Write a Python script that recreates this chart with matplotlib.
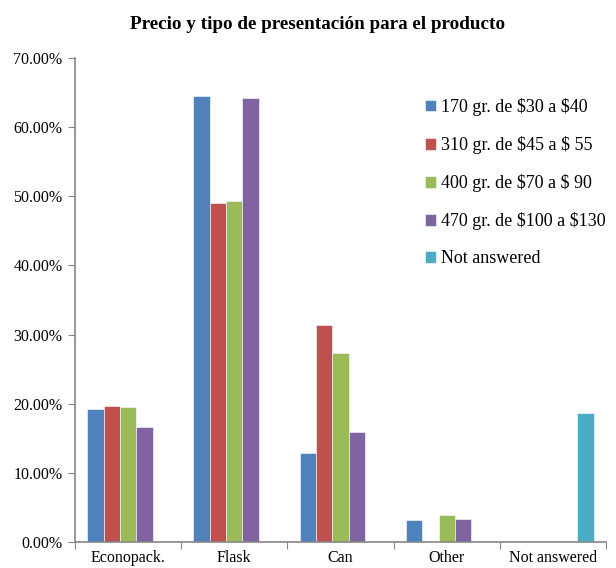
import matplotlib
matplotlib.use("Agg")
import matplotlib.pyplot as plt
import numpy as np
from matplotlib.ticker import FuncFormatter, FixedLocator

plt.rcParams["font.family"] = ["Liberation Serif", "DejaVu Serif"]
plt.rcParams["text.parse_math"] = False

categories = ["Econopack.", "Flask", "Can", "Other", "Not answered"]
series_names = [
    "170 gr. de $30 a $40",
    "310 gr. de $45 a $ 55",
    "400 gr. de $70 a $ 90",
    "470 gr. de $100 a $130",
    "Not answered",
]
s170 = [19.3, 64.5, 12.9, 3.2, 0.0]
s310 = [19.6, 49.0, 31.4, 0.0, 0.0]
s400 = [19.5, 49.3, 27.3, 3.9, 0.0]
s470 = [16.6, 64.2, 15.9, 3.3, 0.0]
s_na = [0.0, 0.0, 0.0, 0.0, 18.7]
values = [s170, s310, s400, s470, s_na]
colors = ["#4F81BD", "#C0504D", "#9BBB59", "#8064A2", "#4BACC6"]

fig = plt.figure(figsize=(6.16, 5.68), dpi=100)
ax = fig.add_axes([0.1218, 0.0458, 0.8620, 0.8522])

x = np.arange(len(categories))
n = len(values)
w = 1.0 / (n + 1.5)
handles = []
for i, (vals, col, name) in enumerate(zip(values, colors, series_names)):
    b = ax.bar(x + (i - (n - 1) / 2) * w, vals, width=w, color=col,
               edgecolor="white", linewidth=0.4, label=name)
    handles.append(b)

ax.set_xlim(-0.5, len(categories) - 0.5)
ax.set_ylim(0, 70)
ax.set_yticks(np.arange(0, 71, 10))
ax.yaxis.set_major_formatter(FuncFormatter(lambda v, p: f"{v:.2f}%"))

# category boundaries as ticks, names centred between them
ax.xaxis.set_major_locator(FixedLocator(np.arange(-0.5, len(categories), 1.0)))
ax.xaxis.set_minor_locator(FixedLocator(x))
ax.set_xticklabels([""] * (len(categories) + 1))
ax.set_xticklabels(categories, minor=True)
ax.tick_params(axis="x", which="minor", length=0, pad=6, labelsize=11.5)
ax.tick_params(axis="x", which="major", length=5, color="#868686")
ax.tick_params(axis="y", length=5, color="#868686", labelsize=11.5, pad=4)

for s in ("top", "right"):
    ax.spines[s].set_visible(False)
for s in ("left", "bottom"):
    ax.spines[s].set_color("#868686")
    ax.spines[s].set_linewidth(1.2)

fig.text(0.515, 0.957, "Precio y tipo de presentación para el producto",
         ha="center", va="center", fontsize=13.8, fontweight="bold")

fig.legend(handles=handles, labels=series_names, loc="upper left",
           bbox_to_anchor=(0.679, 0.84), frameon=False, fontsize=13,
           handlelength=0.6, handleheight=0.6, handletextpad=0.25,
           labelspacing=1.11, borderaxespad=0)

fig.savefig("out.png", dpi=100)
